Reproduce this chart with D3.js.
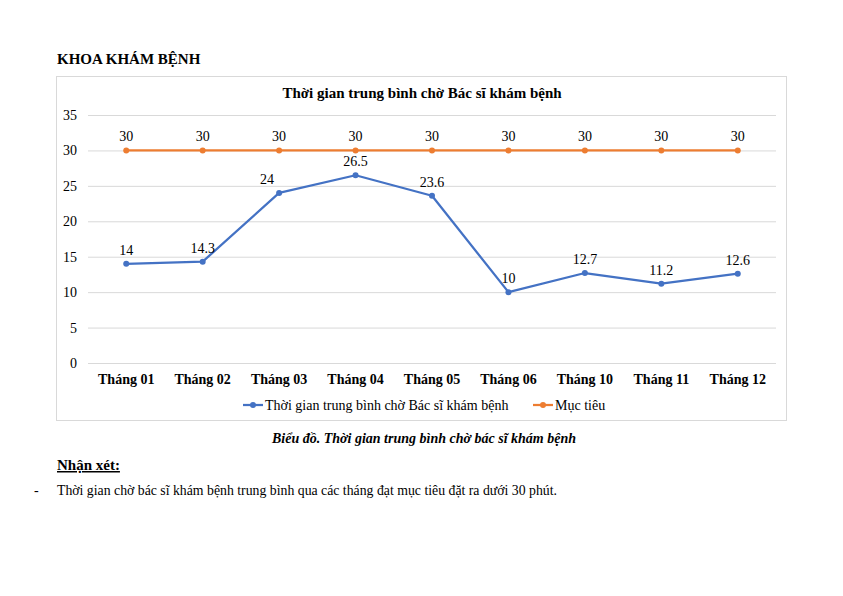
<!DOCTYPE html>
<html><head><meta charset="utf-8">
<script src="https://cdn.jsdelivr.net/npm/d3@7"></script>
<style>body{margin:0;background:#fff}svg{display:block}text{font-family:"Liberation Serif","Times New Roman",serif;fill:#000}</style>
</head><body><svg id="c" width="843" height="596"></svg>
<script>
const categories = ["Tháng 01","Tháng 02","Tháng 03","Tháng 04","Tháng 05","Tháng 06","Tháng 10","Tháng 11","Tháng 12"];
const waitTime = [14, 14.3, 24, 26.5, 23.6, 10, 12.7, 11.2, 12.6];
const target = [30, 30, 30, 30, 30, 30, 30, 30, 30];
const yTicks = [0, 5, 10, 15, 20, 25, 30, 35];
const seriesNames = ["Thời gian trung bình chờ Bác sĩ khám bệnh", "Mục tiêu"];

const svg = d3.select("#c");
const x = d3.scaleBand().domain(categories).range([88, 776]);
const y = d3.scaleLinear().domain([0, 35]).range([363, 115]);
const cx = d => x(d) + x.bandwidth() / 2;

svg.append("text").attr("x", 57).attr("y", 64).attr("font-size", 15).attr("font-weight", "bold").text("KHOA KHÁM BỆNH");
svg.append("rect").attr("x", 56.5).attr("y", 76.5).attr("width", 730).attr("height", 344).attr("fill", "#fff").attr("stroke", "#d9d9d9");
svg.append("text").attr("x", 422).attr("y", 98).attr("text-anchor", "middle").attr("font-size", 15).attr("font-weight", "bold").text("Thời gian trung bình chờ Bác sĩ khám bệnh");

// grid
const yAxis = d3.axisLeft(y).tickValues(yTicks).tickSize(-(776 - 88)).tickPadding(11);
const ga = svg.append("g").attr("transform", "translate(88,0)").call(yAxis);
ga.select(".domain").remove();
ga.selectAll(".tick line").attr("stroke", "#d9d9d9");
ga.selectAll(".tick text").attr("font-size", 14).attr("font-family", '"Liberation Serif",serif').attr("fill", "#000");

const xAxis = d3.axisBottom(x).tickSize(0).tickPadding(11);
const gx = svg.append("g").attr("transform", "translate(0,363)").call(xAxis);
gx.select(".domain").remove();
gx.selectAll(".tick text").attr("font-size", 14).attr("font-weight", "bold").attr("font-family", '"Liberation Serif",serif').attr("fill", "#000");

function series(vals, color, labelDx) {
  const line = d3.line().x((d, i) => cx(categories[i])).y(d => y(d));
  svg.append("path").datum(vals).attr("d", line).attr("fill", "none").attr("stroke", color).attr("stroke-width", 2.25).attr("stroke-linejoin", "round");
  svg.append("g").selectAll("circle").data(vals).join("circle")
    .attr("cx", (d, i) => cx(categories[i])).attr("cy", d => y(d)).attr("r", 3).attr("fill", color);
  svg.append("g").selectAll("text").data(vals).join("text")
    .attr("x", (d, i) => cx(categories[i]) + (labelDx[i] || 0)).attr("y", d => y(d) - 9)
    .attr("text-anchor", "middle").attr("font-size", 14).text(d => d);
}
series(target, "#ED7D31", {});
series(waitTime, "#4472C4", {2: -12});

// legend
const lg = svg.append("g");
[[243, "#4472C4", seriesNames[0]], [533, "#ED7D31", seriesNames[1]]].forEach(([lx, col, name]) => {
  lg.append("line").attr("x1", lx).attr("x2", lx + 20).attr("y1", 405).attr("y2", 405).attr("stroke", col).attr("stroke-width", 2.25);
  lg.append("circle").attr("cx", lx + 10).attr("cy", 405).attr("r", 3).attr("fill", col);
  lg.append("text").attr("x", lx + 22).attr("y", 410).attr("font-size", 14).text(name);
});

svg.append("text").attr("x", 424).attr("y", 443).attr("text-anchor", "middle").attr("font-size", 14).attr("font-weight", "bold").attr("font-style", "italic").text("Biểu đồ. Thời gian trung bình chờ bác sĩ khám bệnh");
svg.append("text").attr("x", 57).attr("y", 470).attr("font-size", 15).attr("font-weight", "bold").attr("text-decoration", "underline").text("Nhận xét:");
svg.append("text").attr("x", 34).attr("y", 495).attr("font-size", 14).text("-");
svg.append("text").attr("x", 57).attr("y", 495).attr("font-size", 14).attr("textLength", 500).attr("lengthAdjust", "spacingAndGlyphs").text("Thời gian chờ bác sĩ khám bệnh trung bình qua các tháng đạt mục tiêu đặt ra dưới 30 phút.");
</script></body></html>
